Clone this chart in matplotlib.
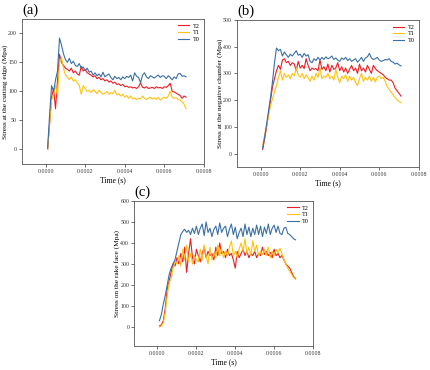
import numpy as np
import matplotlib
matplotlib.use("Agg")
import matplotlib.pyplot as plt
from matplotlib.ticker import FormatStrFormatter

plt.rcParams['font.family'] = ['Liberation Serif', 'DejaVu Serif']

# time in microseconds
time_us = [10, 20, 30, 40, 50, 60, 70, 80, 90, 100, 110, 120, 130, 140, 150, 160, 170, 180, 190, 200,
           210, 220, 230, 240, 250, 260, 270, 280, 290, 300, 310, 320, 330, 340, 350, 360, 370, 380, 390, 400,
           410, 420, 430, 440, 450, 460, 470, 480, 490, 500, 510, 520, 530, 540, 550, 560, 570, 580, 590, 600,
           610, 620, 630, 640, 650, 660, 670, 680, 690, 700, 710]

# (a) Stress at the cutting edge
a_T2 = [0, 45, 90, 105, 70, 120, 164, 150, 145, 140, 138, 135, 140, 132, 135, 130, 128, 143, 135, 138,
        132, 130, 128, 125, 127, 122, 124, 120, 122, 118, 120, 116, 118, 114, 116, 112, 113, 110, 112, 108,
        109, 107, 108, 106, 107, 105, 108, 115, 107, 106, 108, 105, 106, 107, 105, 108, 106, 107, 105, 108,
        107, 110, 114, 100, 99, 97, 95, 93, 88, 92, 90]
a_T1 = [0, 45, 85, 95, 110, 92, 150, 158, 140, 128, 125, 120, 125, 118, 120, 115, 110, 95, 110, 105,
        100, 102, 98, 103, 100, 96, 102, 98, 95, 97, 100, 95, 98, 96, 102, 94, 96, 92, 95, 90,
        93, 88, 92, 87, 89, 86, 88, 87, 92, 88, 86, 88, 90, 87, 89, 86, 90, 85, 88, 90,
        88, 92, 100, 90, 88, 89, 86, 85, 82, 78, 70]
a_T0 = [2, 60, 110, 100, 120, 135, 192, 180, 165, 155, 150, 157, 148, 152, 145, 143, 148, 140, 142, 136,
        140, 133, 135, 128, 132, 127, 130, 125, 133, 125, 128, 130, 124, 120, 126, 122, 124, 120, 125, 122,
        126, 124, 128, 118, 132, 126, 124, 115, 128, 132, 125, 122, 127, 125, 123, 126, 128, 124, 127, 126,
        122, 127, 124, 120, 125, 122, 130, 131, 126, 127, 125]

# (b) Stress at the negative chamfer
b_T2 = [15, 55, 100, 150, 200, 250, 280, 310, 330, 315, 350, 355, 340, 345, 330, 340, 335, 310, 345, 320,
        330, 318, 355, 330, 310, 320, 315, 318, 310, 350, 315, 325, 310, 335, 305, 330, 315, 320, 340, 310,
        325, 305, 320, 300, 315, 330, 310, 320, 300, 335, 310, 320, 305, 330, 315, 300, 330, 318, 310, 305,
        300, 295, 285, 280, 275, 275, 265, 245, 235, 225, 215]
b_T1 = [30, 70, 105, 140, 180, 205, 230, 255, 285, 310, 275, 300, 285, 295, 280, 300, 290, 320, 295, 285,
        300, 280, 295, 285, 270, 290, 275, 300, 285, 320, 280, 290, 285, 300, 280, 290, 275, 315, 285, 265,
        290, 280, 295, 270, 290, 275, 285, 265, 255, 280, 300, 270, 285, 275, 290, 270, 285, 268, 285, 290,
        280, 285, 270, 250, 240, 230, 220, 210, 200, 195, 190]
b_T0 = [20, 60, 110, 160, 210, 270, 340, 395, 385, 390, 365, 380, 370, 360, 372, 365, 375, 385, 368, 372,
        360, 375, 365, 370, 345, 340, 355, 348, 360, 350, 360, 352, 362, 355, 358, 365, 352, 358, 350, 345,
        358, 352, 360, 348, 355, 345, 350, 355, 342, 350, 360, 345, 358, 362, 375, 358, 352, 355, 360, 350,
        345, 348, 352, 350, 355, 345, 342, 335, 338, 332, 328]

# (c) Stress on the rake face
c_T2 = [5, 10, 30, 90, 180, 220, 260, 300, 290, 330, 300, 350, 310, 380, 260, 350, 420, 330, 300, 370,
        340, 310, 350, 380, 330, 360, 340, 350, 320, 380, 340, 400, 350, 360, 330, 370, 340, 350, 320, 280,
        360, 330, 350, 370, 340, 360, 330, 350, 340, 360, 330, 350, 340, 380, 345, 360, 340, 355, 330, 370,
        340, 350, 330, 340, 320, 300, 290, 280, 260, 240, 230]
c_T1 = [0, 5, 20, 70, 150, 210, 230, 280, 310, 300, 340, 290, 370, 320, 390, 310, 350, 300, 340, 320,
        310, 370, 320, 390, 340, 300, 380, 320, 350, 330, 390, 340, 370, 330, 360, 340, 380, 410, 340, 360,
        330, 370, 400, 360, 420, 350, 380, 340, 410, 360, 390, 340, 360, 345, 370, 340, 380, 330, 360, 340,
        370, 350, 375, 350, 320, 300, 280, 265, 250, 235, 228]
c_T0 = [30, 60, 110, 150, 200, 250, 280, 300, 320, 360, 400, 440, 455, 465, 450, 460, 440, 470, 445, 480,
        440, 470, 490, 435, 500, 450, 470, 430, 465, 480, 440, 495, 450, 470, 480, 430, 465, 490, 440, 475,
        420, 450, 470, 430, 490, 440, 475, 430, 470, 440, 485, 440, 480, 430, 475, 445, 490, 440, 470, 485,
        450, 480, 445, 440, 470, 475, 445, 440, 430, 420, 415]

series_labels = ['T2', 'T1', 'T0']
colors = ['#ec1c24', '#ffc20e', '#3b6fa6']

panels = [
    dict(tag='(a)', ylabel='Stress at the cutting edge (Mpa)', data=[a_T2, a_T1, a_T0],
         ylim=(-25, 225), yticks=[0, 50, 100, 150, 200], pos=[0.051, 0.557, 0.423, 0.392]),
    dict(tag='(b)', ylabel='Stress at the negative chamfer (Mpa)', data=[b_T2, b_T1, b_T0],
         ylim=(-50, 500), yticks=[0, 100, 200, 300, 400, 500], pos=[0.551, 0.549, 0.423, 0.397]),
    dict(tag='(c)', ylabel='Stress on the rake face (Mpa)', data=[c_T2, c_T1, c_T0],
         ylim=(-90, 600), yticks=[0, 100, 200, 300, 400, 500, 600], pos=[0.312, 0.065, 0.416, 0.392]),
]

t = np.array(time_us) * 1e-6
W, H = 430, 370

fig = plt.figure(figsize=(4.3, 3.7), dpi=100)
for p in panels:
    ax = fig.add_axes(p['pos'])
    for vals, lab, col in zip(p['data'], series_labels, colors):
        ax.plot(t, vals, color=col, lw=0.8, label=lab)
    ax.set_xlim(-0.00012, 0.0008)
    ax.set_ylim(*p['ylim'])
    ax.set_yticks(p['yticks'])
    ax.set_xticks([0, 0.0002, 0.0004, 0.0006, 0.0008])
    ax.xaxis.set_major_formatter(FormatStrFormatter('%.4f'))
    ax.tick_params(labelsize=4.2, length=2, width=0.5, pad=1.5, colors='#333333')
    for s in ax.spines.values():
        s.set_linewidth(0.6)
        s.set_color('#555555')
    ax.set_xlabel('Time (s)', fontsize=5.5, labelpad=2)
    ax.set_ylabel(p['ylabel'], fontsize=5.3)
    ax.yaxis.set_label_coords(-14.0 / (p['pos'][2] * W), 0.5)
    ax.text(0.0, 1.015, p['tag'], transform=ax.transAxes, fontsize=10.5, va='bottom', ha='left')
    ax.legend(loc='upper right', frameon=False, fontsize=4.5, handlelength=1.8,
              labelspacing=0.2, borderaxespad=0.3, handletextpad=0.5)

fig.savefig('out.png', dpi=100)
